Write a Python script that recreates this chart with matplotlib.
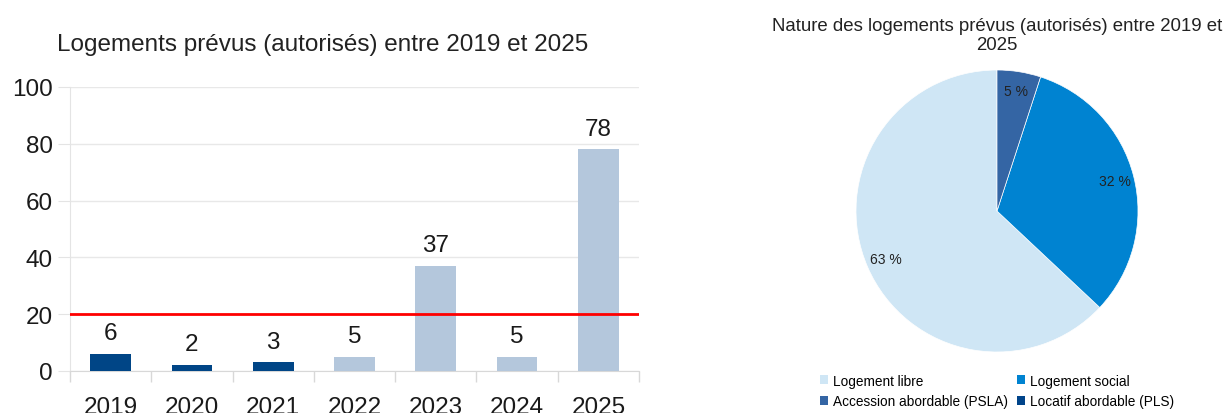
import matplotlib
matplotlib.use("Agg")
import matplotlib.pyplot as plt
from matplotlib.patches import Patch

plt.rcParams['font.family'] = ['Liberation Sans', 'DejaVu Sans']

# ---- data ----
years = ["2019", "2020", "2021", "2022", "2023", "2024", "2025"]
logements = [6, 2, 3, 5, 37, 5, 78]
threshold = 20
bar_title = "Logements prévus (autorisés) entre 2019 et 2025"

pie_labels = ["Logement libre", "Logement social", "Accession abordable (PSLA)", "Locatif abordable (PLS)"]
pie_values = [63, 32, 5, 0]
pie_title = "Nature des logements prévus (autorisés) entre 2019 et\n2025"

W, H = 1226, 414
fig = plt.figure(figsize=(W / 100, H / 100), dpi=100)
fig.patch.set_facecolor("white")

def px(l, t, r, b):
    return [l / W, 1 - b / H, (r - l) / W, (b - t) / H]

txt = "#1a1a1a"

# ---- bar chart ----
ax = fig.add_axes(px(70, 88, 639, 372))
dark = "#004586"
light = "#b4c7dc"
colors = [dark, dark, dark, light, light, light, light]
xs = list(range(len(years)))
ax.bar(xs, logements, width=0.5, color=colors, zorder=3)
for x, v in zip(xs, logements):
    ax.text(x, v + 3.5, str(v), ha="center", va="bottom", fontsize=17.5, color=txt, zorder=4)
ax.axhline(threshold, color="#ff0000", lw=2, zorder=5)
ax.set_xlim(-0.5, len(years) - 0.5)
ax.set_ylim(0, 100)
ax.set_yticks([0, 20, 40, 60, 80, 100])
ax.yaxis.grid(True, color="#e8e8e8", lw=1, zorder=0)
ax.set_xticks(xs)
ax.set_xticklabels(years)
ax.set_xticks([x - 0.5 for x in xs] + [len(years) - 0.5], minor=True)
ax.tick_params(axis="x", which="major", length=0, pad=18, labelsize=17.5, colors=txt)
ax.tick_params(axis="x", which="minor", length=8, color="#d8d8d8", width=1)
ax.tick_params(axis="y", length=8.5, color="#e4e4e4", pad=4, labelsize=17.5, colors=txt)
for s in ["top", "right"]:
    ax.spines[s].set_visible(False)
ax.spines["left"].set_color("#e4e4e4")
ax.spines["bottom"].set_color("#d8d8d8")
fig.text(323 / W, 1 - 45 / H, bar_title, ha="center", va="center", fontsize=17.5, color="#222222")

# ---- pie chart ----
cx, cy, r = 997, 212, 141
pax = fig.add_axes(px(cx - r, cy - r, cx + r, cy + r))
pie_colors = ["#cfe6f5", "#0083d1", "#3465a4", "#00448a"]
vals = [v for v in pie_values if v > 0]
cols = [c for c, v in zip(pie_colors, pie_values) if v > 0]
wedges, texts, autotexts = pax.pie(vals, colors=cols, startangle=90, counterclock=True,
                                   autopct=lambda p: f"{p:.0f} %", pctdistance=0.86,
                                   wedgeprops=dict(linewidth=0.5, edgecolor="white"),
                                   textprops=dict(fontsize=10, color="#222222"))
pax.set_xlim(-1, 1)
pax.set_ylim(-1, 1)
pax.set_aspect("equal")
fig.text(997 / W, 1 - 36 / H, pie_title, ha="center", va="center", fontsize=13.4, color="#222222",
         linespacing=1.15)

# legend filled row by row: reorder for matplotlib's column-major layout
order = [0, 2, 1, 3]
handles = [Patch(facecolor=pie_colors[i], edgecolor="none") for i in order]
labels = [pie_labels[i] for i in order]
fig.legend(handles, labels, ncol=2, loc="center", bbox_to_anchor=(997 / W, 1 - 392 / H),
           frameon=False, fontsize=9.8, handlelength=0.6, handleheight=0.6, handletextpad=0.35,
           columnspacing=0.7, labelspacing=0.5, borderpad=0)

fig.savefig("out.png", dpi=100)
